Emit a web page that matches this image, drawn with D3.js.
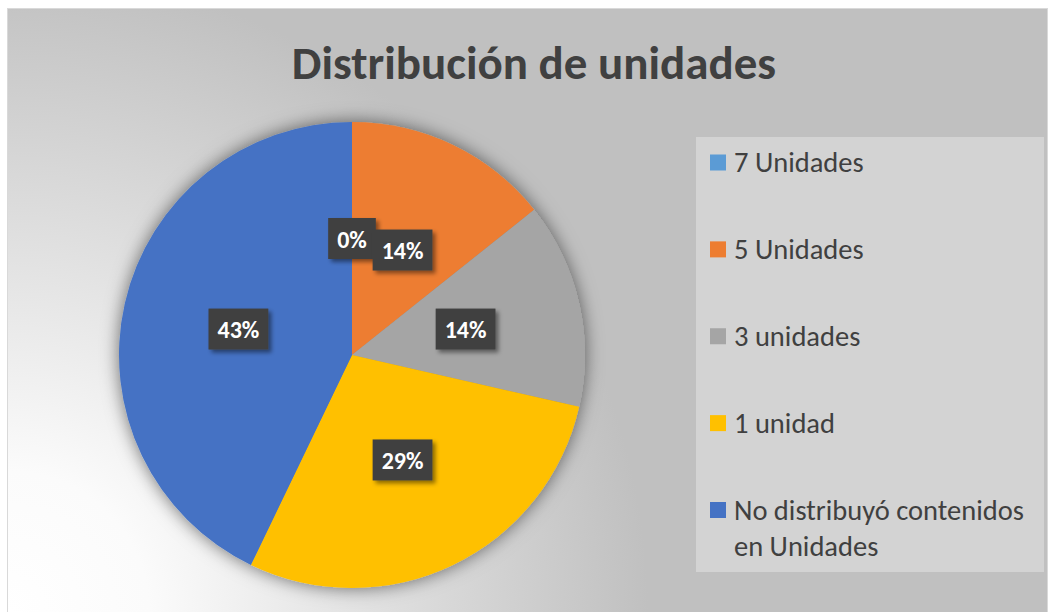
<!DOCTYPE html>
<html>
<head>
<meta charset="utf-8">
<script src="https://cdn.jsdelivr.net/npm/d3@7"></script>
<style>
body { margin: 0; background: #fff; }
svg { display: block; }
</style>
</head>
<body>
<script>
// data
var categories = ["7 Unidades", "5 Unidades", "3 unidades", "1 unidad", "No distribuyó contenidos en Unidades"];
var counts = [0, 1, 1, 2, 3];
var colors = ["#5B9BD5", "#ED7D31", "#A5A5A5", "#FFC000", "#4472C4"];
var legendLines = [["7 Unidades"], ["5 Unidades"], ["3 unidades"], ["1 unidad"], ["No distribuyó contenidos", "en Unidades"]];

var w = 1049;
var h = 612;
var font = "Carlito, Calibri, Lato, sans-serif";

var svg = d3.select("body")
	.append("svg")
	.attr("width", w)
	.attr("height", h);

var defs = svg.append("defs");

// background gradient, white at bottom left
var grad = defs.append("radialGradient")
	.attr("id", "bg")
	.attr("gradientUnits", "userSpaceOnUse")
	.attr("cx", 8)
	.attr("cy", 612)
	.attr("r", 640);
grad.append("stop").attr("offset", "0").attr("stop-color", "#ffffff");
grad.append("stop").attr("offset", "0.22").attr("stop-color", "#fbfbfb");
grad.append("stop").attr("offset", "1").attr("stop-color", "#c0c0c0");

var pieShadow = defs.append("filter")
	.attr("id", "pieShadow")
	.attr("x", "-20%").attr("y", "-20%")
	.attr("width", "140%").attr("height", "140%");
pieShadow.append("feDropShadow")
	.attr("dx", 0).attr("dy", 0)
	.attr("stdDeviation", 9)
	.attr("flood-color", "#000")
	.attr("flood-opacity", 0.55);

var labelShadow = defs.append("filter")
	.attr("id", "labelShadow")
	.attr("x", "-30%").attr("y", "-30%")
	.attr("width", "160%").attr("height", "160%");
labelShadow.append("feDropShadow")
	.attr("dx", 3).attr("dy", 3)
	.attr("stdDeviation", 2)
	.attr("flood-color", "#000")
	.attr("flood-opacity", 0.45);

// chart area
svg.append("rect")
	.attr("x", 7.5)
	.attr("y", 8.5)
	.attr("width", 1040)
	.attr("height", 640)
	.attr("fill", "url(#bg)")
	.attr("stroke", "#d9d9d9");

// title
svg.append("text")
	.attr("x", 534)
	.attr("y", 79)
	.attr("text-anchor", "middle")
	.attr("font-family", font)
	.attr("font-size", 47)
	.attr("font-weight", "bold")
	.attr("fill", "#404040")
	.text("Distribución de unidades");

// pie
var cx = 352, cy = 355, radius = 233;
var total = d3.sum(counts);

var pie = d3.pie()
	.sort(null)
	.value(function(d) { return d; });

var arc = d3.arc()
	.innerRadius(0)
	.outerRadius(radius);

var arcs = pie(counts);

var g = svg.append("g")
	.attr("transform", "translate(" + cx + "," + cy + ")");

g.append("g")
	.attr("filter", "url(#pieShadow)")
	.selectAll("path")
	.data(arcs)
	.enter()
	.append("path")
	.attr("fill", function(d, i) { return colors[i]; })
	.attr("d", arc);

// data labels
var labels = g.selectAll("g.lbl")
	.data(arcs)
	.enter()
	.append("g")
	.attr("class", "lbl")
	.attr("transform", function(d) { return "translate(" + arc.centroid(d) + ")"; });

labels.each(function(d) {
	var lg = d3.select(this);
	var rect = lg.append("rect")
		.attr("fill", "#404040")
		.attr("filter", "url(#labelShadow)");
	var t = lg.append("text")
		.attr("text-anchor", "middle")
		.attr("y", 9)
		.attr("font-family", font)
		.attr("font-size", 24)
		.attr("font-weight", "bold")
		.attr("fill", "#ffffff")
		.text(Math.round(d.value / total * 100) + "%");
	var tw = t.node().getComputedTextLength();
	rect.attr("x", -(tw / 2 + 9))
		.attr("y", -20.5)
		.attr("width", tw + 18)
		.attr("height", 41);
});

// legend
svg.append("rect")
	.attr("x", 696)
	.attr("y", 137)
	.attr("width", 348)
	.attr("height", 435)
	.attr("fill", "#d3d3d3");

var ly = d3.scalePoint()
	.domain(categories)
	.range([162.5, 510]);

var items = svg.selectAll("g.legend")
	.data(categories)
	.enter()
	.append("g")
	.attr("class", "legend")
	.attr("transform", function(d) { return "translate(0," + ly(d) + ")"; });

items.append("rect")
	.attr("x", 710)
	.attr("y", -8)
	.attr("width", 16)
	.attr("height", 16)
	.attr("fill", function(d, i) { return colors[i]; });

items.append("text")
	.attr("font-family", font)
	.attr("font-size", 28.5)
	.attr("fill", "#404040")
	.each(function(d, i) {
		var t = d3.select(this);
		legendLines[i].forEach(function(line, k) {
			t.append("tspan")
				.attr("x", 734)
				.attr("y", 9.5 + k * 36)
				.text(line);
		});
	});
</script>
</body>
</html>
